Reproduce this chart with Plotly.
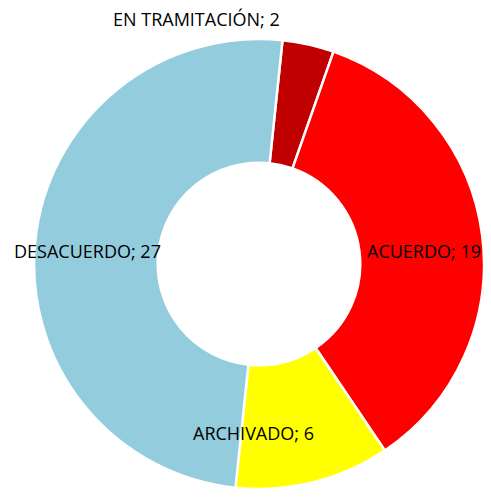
import plotly.graph_objects as go

# Estado de los expedientes
labels = ["EN TRAMITACIÓN", "ACUERDO", "ARCHIVADO", "DESACUERDO"]
values = [2, 19, 6, 27]
colors = ["#C00000", "#FF0000", "#FFFF00", "#93CDDD"]

W, H = 483, 481  # page body has an 8px margin

# where Excel put each data label (pixels from top-left of the figure)
label_px = [188, 416, 245, 79]
label_py = [11, 243, 425, 243]

fig = go.Figure(go.Pie(
    labels=labels,
    values=values,
    hole=0.45,
    sort=False,
    direction="clockwise",
    rotation=6,
    marker=dict(colors=colors, line=dict(color="white", width=2.5)),
    textinfo="none",
    hoverinfo="label+value",
    domain=dict(x=[22 / W, 480 / W], y=[0, 1 - 31 / H]),
    showlegend=False,
))

for lab, val, px_, py_ in zip(labels, values, label_px, label_py):
    fig.add_annotation(
        x=px_ / W, y=1 - py_ / H, xref="paper", yref="paper",
        xanchor="center", yanchor="middle",
        text=f"{lab}; {val}", showarrow=False,
        font=dict(family="Open Sans", size=18, color="black"),
    )

fig.update_layout(
    width=W,
    height=H,
    margin=dict(l=0, r=0, t=0, b=0),
    paper_bgcolor="white",
    plot_bgcolor="white",
)

fig.write_html("out.html")
